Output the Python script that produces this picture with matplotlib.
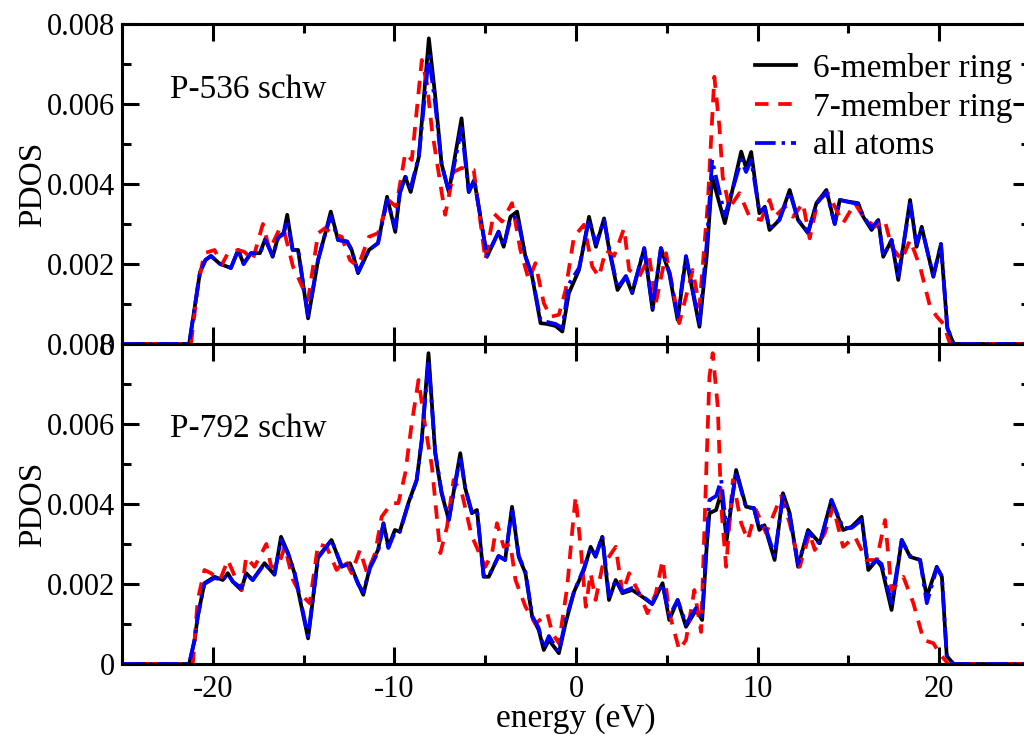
import numpy as np
import matplotlib
matplotlib.use("Agg")
import matplotlib.pyplot as plt
from matplotlib.ticker import MultipleLocator, FuncFormatter

plt.rcParams['font.family'] = ['Liberation Serif', 'DejaVu Serif']
plt.rcParams['axes.unicode_minus'] = False

# ---- P-536 schw ----
e_top = [-25, -21.3, -21.0, -20.7, -20.4, -20.1, -19.6, -19.0, -18.6, -18.3, -17.9, -17.4,
         -17.1, -16.7, -16.4, -16.1, -15.9, -15.6, -15.3, -14.75, -14.2, -13.8, -13.5, -13.1,
         -12.6, -12.35, -12.0, -11.4, -10.9, -10.4, -9.95, -9.7, -9.4, -9.1, -8.65, -8.1,
         -7.75, -7.4, -7.0, -6.3, -5.9, -5.6, -4.9, -4.26, -3.98, -3.61, -3.24, -2.78, -2.41,
         -1.95, -1.58, -1.12, -0.75, -0.39, 0.17, 0.72, 1.1, 1.55, 1.83, 2.29, 2.75, 3.1,
         3.76, 4.22, 4.68, 5.14, 5.6, 6.06, 6.8, 7.2, 7.5, 8.2, 9.1, 9.37, 9.65, 10.1, 10.4,
         10.66, 11.2, 11.77, 12.23, 12.78, 13.24, 13.79, 14.25, 14.53, 14.99, 15.54, 15.82,
         16.28, 16.65, 16.92, 17.38, 17.75, 18.4, 18.76, 19.04, 19.68, 20.1, 20.45, 20.8, 25]
ring6_top = [0, 0, 0.0009, 0.0018, 0.0021, 0.0022, 0.0020, 0.0019, 0.00235, 0.0020, 0.00227,
             0.00227, 0.00264, 0.00218, 0.00268, 0.00277, 0.00323, 0.00235, 0.00235, 0.00064,
             0.0021, 0.00277, 0.00331, 0.0026, 0.00256, 0.00235, 0.00177, 0.00235, 0.00252,
             0.00368, 0.0028, 0.00377, 0.00418, 0.0038, 0.00468, 0.00764, 0.0062, 0.0045,
             0.0038, 0.00564, 0.0038, 0.0041, 0.00218, 0.00281, 0.00243, 0.00318, 0.00331,
             0.00218, 0.00168, 0.00052, 0.0005, 0.00045, 0.00031, 0.00127, 0.00185, 0.00318,
             0.00243, 0.00314, 0.00235, 0.00135, 0.00168, 0.00127, 0.00239, 0.00085, 0.00239,
             0.00177, 0.0006, 0.00218, 0.00043, 0.0022, 0.00418, 0.00302, 0.00481, 0.0044,
             0.0048, 0.00327, 0.00343, 0.00285, 0.0031, 0.00385, 0.0031, 0.00277, 0.00352,
             0.00385, 0.0030, 0.0036, 0.00356, 0.00352, 0.00318, 0.00285, 0.0031, 0.00218,
             0.0026, 0.0016, 0.0036, 0.00243, 0.00293, 0.00168, 0.0025, 0.0004, 0, 0]
all_top = [0, 0, 0.0009, 0.0018, 0.0021, 0.0022, 0.0020, 0.0019, 0.00235, 0.0020, 0.00227,
           0.00227, 0.0026, 0.0022, 0.00265, 0.00275, 0.0031, 0.00235, 0.00235, 0.0007,
           0.0021, 0.00277, 0.0032, 0.0026, 0.00256, 0.00235, 0.0018, 0.00235, 0.00252,
           0.0036, 0.0029, 0.00377, 0.0042, 0.0039, 0.0047, 0.0072, 0.0060, 0.0045,
           0.0038, 0.0054, 0.0038, 0.0041, 0.0022, 0.0028, 0.00245, 0.0031, 0.0032,
           0.0022, 0.0017, 0.0006, 0.00055, 0.0005, 0.0004, 0.0015, 0.0019, 0.0031,
           0.0025, 0.0031, 0.0024, 0.0014, 0.0017, 0.0013, 0.0024, 0.0009, 0.0024,
           0.0018, 0.0007, 0.0022, 0.0005, 0.0025, 0.0046, 0.0032, 0.0046, 0.0043,
           0.0046, 0.0033, 0.0034, 0.0029, 0.0031, 0.0038, 0.0031, 0.0028, 0.0035,
           0.0038, 0.0030, 0.0036, 0.00355, 0.0035, 0.0032, 0.0029, 0.0031, 0.0022,
           0.0026, 0.0017, 0.0035, 0.0025, 0.0029, 0.0017, 0.0025, 0.0004, 0, 0]
e7_top = [-25, -21.2, -20.83, -20.46, -19.9, -19.5, -19.17, -18.6, -18.25, -17.8, -17.24,
          -16.87, -16.3, -16.04, -15.58, -15.4, -14.75, -14.2, -13.8, -13.46, -12.9, -12.45,
          -12.0, -11.4, -10.9, -10.33, -9.9, -9.4, -9.04, -8.49, -8.2, -7.93, -7.2, -6.74,
          -6.3, -5.63, -4.99, -4.53, -4.07, -3.52, -3.06, -2.6, -2.23, -1.77, -1.4, -0.94,
          -0.57, -0.11, 0.44, 0.9, 1.27, 1.64, 2.1, 2.65, 2.93, 3.48, 4.04, 4.4, 4.96, 5.69,
          6.43, 6.8, 7.26, 7.62, 7.9, 8.08, 8.45, 9.0, 9.56, 10.2, 10.66, 10.94, 11.5, 11.95,
          12.5, 12.87, 13.33, 13.88, 14.71, 15.36, 15.82, 16.46, 17.0, 17.38, 17.94, 18.4,
          18.95, 19.5, 19.88, 20.24, 20.6, 25]
ring7_top = [0, 0, 0.00143, 0.00227, 0.00235, 0.00198, 0.00227, 0.00235, 0.0023, 0.0021,
             0.0030, 0.00235, 0.0029, 0.00277, 0.00193, 0.00177, 0.0011, 0.00277, 0.0029,
             0.00277, 0.00268, 0.0021, 0.00193, 0.00268, 0.00277, 0.0036, 0.00343, 0.00477,
             0.0046, 0.0071, 0.0065, 0.00535, 0.00323, 0.0043, 0.0044, 0.00435, 0.0021,
             0.00327, 0.00306, 0.00352, 0.00235, 0.0016, 0.00202, 0.00102, 0.00068, 0.00073,
             0.00135, 0.00268, 0.00298, 0.00193, 0.00168, 0.00235, 0.0022, 0.00289, 0.00185,
             0.00168, 0.00218, 0.00102, 0.00227, 0.00052, 0.00185, 0.00093, 0.00352, 0.00668,
             0.00543, 0.00418, 0.0034, 0.00377, 0.00318, 0.0031, 0.0036, 0.00318, 0.00343,
             0.00318, 0.00352, 0.00264, 0.0036, 0.00377, 0.00302, 0.00352, 0.00318, 0.00293,
             0.0031, 0.00243, 0.0021, 0.0026, 0.00193, 0.00093, 0.00068, 0.0005, 0, 0]

# ---- P-792 schw ----
e_bot = [-25, -21.3, -21.0, -20.83, -20.46, -19.9, -19.45, -19.17, -18.9, -18.43, -18.16,
         -17.8, -17.15, -16.6, -16.24, -15.85, -15.5, -14.75, -14.2, -13.46, -12.9, -12.45,
         -12.0, -11.71, -11.34, -10.9, -10.6, -10.33, -9.97, -9.7, -9.23, -8.77, -8.49, -8.12,
         -7.75, -7.4, -7.0, -6.37, -6.1, -5.73, -5.45, -5.08, -4.8, -4.26, -3.9, -3.52, -3.15,
         -2.78, -2.41, -2.05, -1.77, -1.49, -0.94, -0.57, -0.11, 0.44, 0.81, 1.08, 1.45, 1.82,
         2.19, 2.56, 3.1, 3.66, 4.2, 4.77, 5.14, 5.6, 6.06, 6.61, 6.95, 7.2, 7.35, 7.72, 8.0,
         8.3, 8.82, 9.37, 9.8, 10.1, 10.38, 10.94, 11.4, 11.77, 12.23, 12.78, 13.43, 14.07,
         14.71, 15.18, 15.73, 16.1, 16.56, 16.83, 17.38, 17.94, 18.4, 18.95, 19.32, 19.87,
         20.15, 20.42, 20.8, 25]
ring6_bot = [0, 0, 0.0006, 0.00118, 0.00202, 0.00218, 0.0021, 0.00227, 0.00206, 0.00185,
             0.00227, 0.0021, 0.00252, 0.00223, 0.00318, 0.00277, 0.00227, 0.00064, 0.00268,
             0.0031, 0.00243, 0.00252, 0.00202, 0.00173, 0.00243, 0.00285, 0.00352, 0.00293,
             0.00335, 0.00331, 0.00402, 0.0046, 0.0056, 0.00777, 0.00527, 0.00427, 0.0036,
             0.00527, 0.0044, 0.00377, 0.00385, 0.00218, 0.00218, 0.0027, 0.0026, 0.00393,
             0.00268, 0.00227, 0.00118, 0.00085, 0.00035, 0.0006, 0.00027, 0.00102, 0.0018,
             0.00235, 0.00293, 0.00268, 0.00318, 0.0016, 0.0021, 0.00177, 0.00185, 0.00168,
             0.0015, 0.00202, 0.0011, 0.0016, 0.00093, 0.00135, 0.0011, 0.00293, 0.00377,
             0.00385, 0.0043, 0.0031, 0.00485, 0.00393, 0.0039, 0.00335, 0.00347, 0.0026,
             0.00427, 0.00377, 0.00243, 0.00335, 0.00302, 0.0041, 0.00335, 0.00343, 0.00368,
             0.00235, 0.0026, 0.00243, 0.00135, 0.0031, 0.00268, 0.0026, 0.00168, 0.00243,
             0.00218, 0.0002, 0, 0]
all_bot = [0, 0, 0.0006, 0.00118, 0.002, 0.00215, 0.0021, 0.00225, 0.00206, 0.0019,
           0.00225, 0.0021, 0.0025, 0.00225, 0.0031, 0.00275, 0.0023, 0.0007, 0.00265,
           0.0031, 0.00245, 0.0025, 0.002, 0.0018, 0.0024, 0.0028, 0.0035, 0.0029,
           0.0033, 0.0033, 0.004, 0.0046, 0.0056, 0.0076, 0.0053, 0.0043, 0.0036,
           0.0052, 0.0044, 0.0038, 0.00385, 0.0022, 0.0022, 0.0027, 0.0026, 0.0039,
           0.0027, 0.0023, 0.0012, 0.0009, 0.0004, 0.0007, 0.0003, 0.0011, 0.0018,
           0.0024, 0.0029, 0.0027, 0.0032, 0.0017, 0.0021, 0.0018, 0.0019, 0.0017,
           0.0015, 0.002, 0.0012, 0.0016, 0.001, 0.0014, 0.0012, 0.0031, 0.0041,
           0.0042, 0.0046, 0.0033, 0.0048, 0.0039, 0.0039, 0.0034, 0.0035, 0.0027,
           0.0042, 0.0037, 0.0025, 0.0033, 0.003, 0.0041, 0.0034, 0.0034, 0.0036,
           0.0024, 0.0026, 0.0025, 0.00152, 0.0031, 0.0027, 0.0026, 0.00152, 0.0024,
           0.0022, 0.0002, 0, 0]
e7_bot = [-25, -21.1, -20.83, -20.46, -20.1, -19.6, -19.17, -18.7, -18.4, -18.16, -17.7,
          -17.05, -16.78, -16.4, -16.04, -15.58, -15.2, -14.66, -14.2, -13.73, -13.18, -12.72,
          -12.35, -11.9, -11.5, -11.06, -10.7, -10.15, -9.78, -9.4, -9.04, -8.67, -8.3, -7.93,
          -7.47, -7.1, -6.74, -6.28, -5.74, -4.99, -4.62, -4.35, -3.98, -3.61, -3.33, -2.78,
          -2.23, -1.58, -1.3, -0.94, -0.48, -0.2, -0.02, 0.26, 0.54, 0.81, 1.08, 1.45, 2.19,
          2.56, 2.93, 3.48, 3.94, 4.4, 4.77, 5.14, 5.69, 6.06, 6.52, 6.89, 7.16, 7.35, 7.53,
          7.81, 8.0, 8.27, 8.64, 9.1, 9.46, 9.92, 10.47, 11.3, 11.77, 12.32, 12.87, 13.15,
          13.7, 14.16, 14.71, 15.36, 16.0, 16.56, 17.02, 17.38, 18.03, 18.58, 19.14, 19.68,
          20.05, 20.5, 25]
ring7_bot = [0, 0, 0.0016, 0.00235, 0.00227, 0.0021, 0.0026, 0.0021, 0.00185, 0.00268,
             0.00243, 0.0030, 0.00243, 0.00243, 0.00293, 0.0021, 0.00177, 0.00152, 0.0030,
             0.00293, 0.00235, 0.0026, 0.00227, 0.00285, 0.00227, 0.00277, 0.00368, 0.00402,
             0.00402, 0.00477, 0.00602, 0.0071, 0.00593, 0.00493, 0.00277, 0.00343, 0.0046,
             0.00427, 0.0032, 0.00243, 0.00277, 0.00352, 0.00293, 0.0030, 0.0021, 0.00143,
             0.001, 0.00127, 0.00077, 0.00052, 0.00193, 0.00335, 0.00418, 0.00293, 0.00143,
             0.00227, 0.0016, 0.00243, 0.00293, 0.00177, 0.00227, 0.00177, 0.00127, 0.00177,
             0.0026, 0.00127, 0.00035, 0.0006, 0.00185, 0.0008, 0.0046, 0.00718, 0.00777,
             0.00643, 0.00393, 0.00243, 0.0046, 0.00352, 0.0031, 0.00385, 0.00327, 0.0042,
             0.00352, 0.00243, 0.00327, 0.00285, 0.00327, 0.00393, 0.00293, 0.00318, 0.0026,
             0.0026, 0.0036, 0.00185, 0.00218, 0.00152, 0.0006, 0.00052, 0.00025, 0, 0]

labels = ['6-member ring', '7-member ring', 'all atoms']
titles = ['P-536 schw', 'P-792 schw']

fig = plt.figure(figsize=(10.24, 7.35), dpi=100)
ax_top = fig.add_axes([0.1191, 0.5320, 0.8867, 0.4354])
ax_bot = fig.add_axes([0.1191, 0.0966, 0.8867, 0.4354])

panels = [
    (ax_top, e_top, ring6_top, e7_top, ring7_top, all_top, titles[0], 0.769),
    (ax_bot, e_bot, ring6_bot, e7_bot, ring7_bot, all_bot, titles[1], 0.709),
]

lw = 2.7
for ax, e6, p6, e7, p7, pall, title, ty in panels:
    ax.plot(e6, p6, color='black', lw=lw, solid_joinstyle='round', label=labels[0])
    ax.plot(e7, p7, color='#ff0000', lw=lw, dashes=(3.6, 2.6), dash_joinstyle='round',
            label=labels[1])
    ax.plot(e6, pall, color='#0000ff', lw=lw, dashes=(5.5, 1.6, 0.9, 1.6),
            dash_joinstyle='round', label=labels[2])

    ax.set_xlim(-25, 25)
    ax.set_ylim(0, 0.008)
    ax.xaxis.set_major_locator(MultipleLocator(10))
    ax.xaxis.set_minor_locator(MultipleLocator(5))
    ax.yaxis.set_major_locator(MultipleLocator(0.002))
    ax.yaxis.set_minor_locator(MultipleLocator(0.001))
    ax.yaxis.set_major_formatter(FuncFormatter(lambda v, p: '0' if abs(v) < 1e-9 else '%.3f' % v))
    ax.tick_params(which='both', direction='in', top=True, right=True, width=2.2,
                   labelsize=22, pad=5)
    ax.tick_params(which='major', length=12)
    ax.tick_params(which='minor', length=6.5)
    for sp in ax.spines.values():
        sp.set_linewidth(2.2)
    ax.set_ylabel('PDOS', fontsize=24, labelpad=-1)
    ax.text(0.053, ty, title, transform=ax.transAxes, fontsize=24, va='baseline', ha='left')

ax_top.tick_params(axis='x', labelbottom=False)
ax_bot.tick_params(axis='x', pad=8)
ax_bot.set_xlabel('energy (eV)', fontsize=24, labelpad=-1)

ax_top.legend(loc='upper left', bbox_to_anchor=(0.697, 0.91), frameon=False, fontsize=24,
              handlelength=1.25, handletextpad=0.5, labelspacing=0.24, borderpad=0,
              borderaxespad=0)

fig.savefig('out.png', dpi=100)
